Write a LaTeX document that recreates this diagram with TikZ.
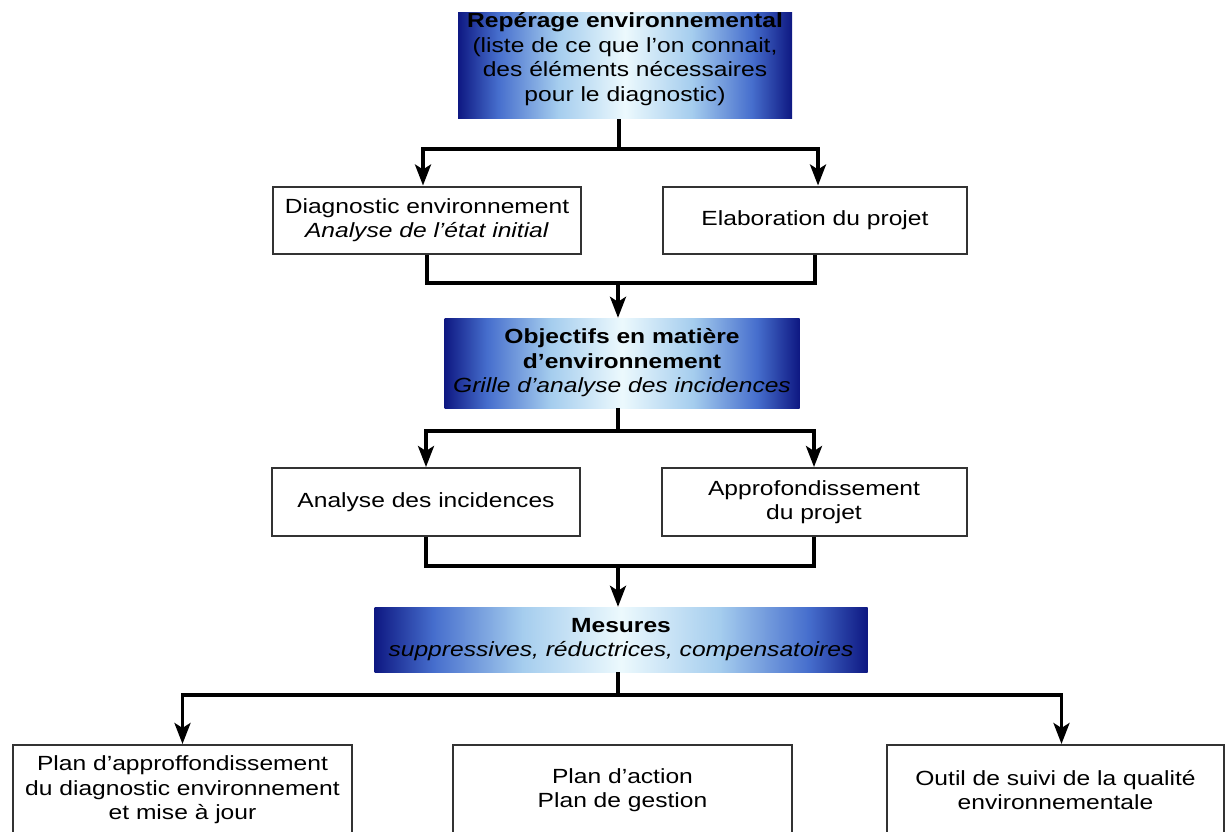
\documentclass[tikz,border=0pt]{standalone}
\usepackage{fontspec}
\setmainfont{Liberation Sans}[FakeStretch=1.2]
\usetikzlibrary{arrows.meta}

\definecolor{boxnavy}{RGB}{14,24,130}
\definecolor{boxmid}{RGB}{70,110,205}
\definecolor{boxpale}{RGB}{165,205,238}
\definecolor{boxlight}{RGB}{236,249,253}
\pgfdeclarehorizontalshading{blueglow}{100bp}{color(0bp)=(boxnavy); color(25bp)=(boxnavy); color(31bp)=(boxmid); color(40bp)=(boxpale); color(50bp)=(boxlight); color(60bp)=(boxpale); color(69bp)=(boxmid); color(75bp)=(boxnavy); color(100bp)=(boxnavy)}

\begin{document}
\begin{tikzpicture}[x=1pt,y=-1pt,
  every node/.style={font=\fontsize{20.5}{24.5}\selectfont, align=center},
  plain/.style={draw=black!80, line width=2pt, fill=white, inner sep=0pt},
  glow/.style={shading=blueglow, inner sep=0pt},
  link/.style={line width=3.5pt},
  arr/.style={link, -{Stealth[length=21pt,width=16pt,inset=5pt]}}]
\useasboundingbox (0,0) rectangle (1226,832);

% top box, cut by the frame
\begin{scope}
\clip (0,13) rectangle (1226,832);
\node[glow, minimum width=334, minimum height=120] (Top) at (625,59)
  {\textbf{Repérage environnemental}\\(liste de ce que l'on connait,\\des éléments nécessaires\\pour le diagnostic)};
\end{scope}

\node[plain, minimum width=308, minimum height=67] (B1) at (427,220) {Diagnostic environnement\\\textit{Analyse de l'état initial}};
\node[plain, minimum width=304, minimum height=67] (B2) at (815,220) {Elaboration du projet};
\node[glow, minimum width=355, minimum height=90] (Obj) at (622,363)
  {\textbf{Objectifs en matière}\\\textbf{d'environnement}\\\textit{Grille d'analyse des incidences}};
\node[plain, minimum width=308, minimum height=68] (B3) at (426,502) {Analyse des incidences};
\node[plain, minimum width=305, minimum height=68] (B4) at (814,502) {Approfondissement\\du projet};
\node[glow, minimum width=493, minimum height=65] (Mes) at (621,639.5)
  {\textbf{Mesures}\\\textit{suppressives, réductrices, compensatoires}};
\node[plain, minimum width=339, minimum height=90] (P1) at (182.5,790) {Plan d'approffondissement\\du diagnostic environnement\\et mise à jour};
\node[plain, minimum width=339, minimum height=90] (P2) at (622.5,790) {Plan d'action\\Plan de gestion};
\node[plain, minimum width=337, minimum height=90] (P3) at (1055.5,790) {Outil de suivi de la qualité\\environnementale};

% connectors
\coordinate (J1) at (619,149);
\coordinate (J2) at (618,283);
\coordinate (J3) at (618,431);
\coordinate (J4) at (618,566);
\coordinate (J5) at (618,695);
\draw[link] (J1 |- Top.south) -- (J1);
\draw[arr] (J1) -| ([xshift=-4]B1.north);
\draw[arr] (J1) -| ([xshift=3]B2.north);
\draw[link] (B1.south) |- (J2) -| (B2.south);
\draw[arr] (J2) -- (J2 |- Obj.north);
\draw[link] (J3 |- Obj.south) -- (J3);
\draw[arr] (J3) -| (B3.north);
\draw[arr] (J3) -| (B4.north);
\draw[link] (B3.south) |- (J4) -| (B4.south);
\draw[arr] (J4) -- (J4 |- Mes.north);
\draw[link] (J5 |- Mes.south) -- (J5);
\draw[arr] (J5) -| (P1.north);
\draw[arr] (J5) -| ([xshift=6]P3.north);
\end{tikzpicture}
\end{document}
